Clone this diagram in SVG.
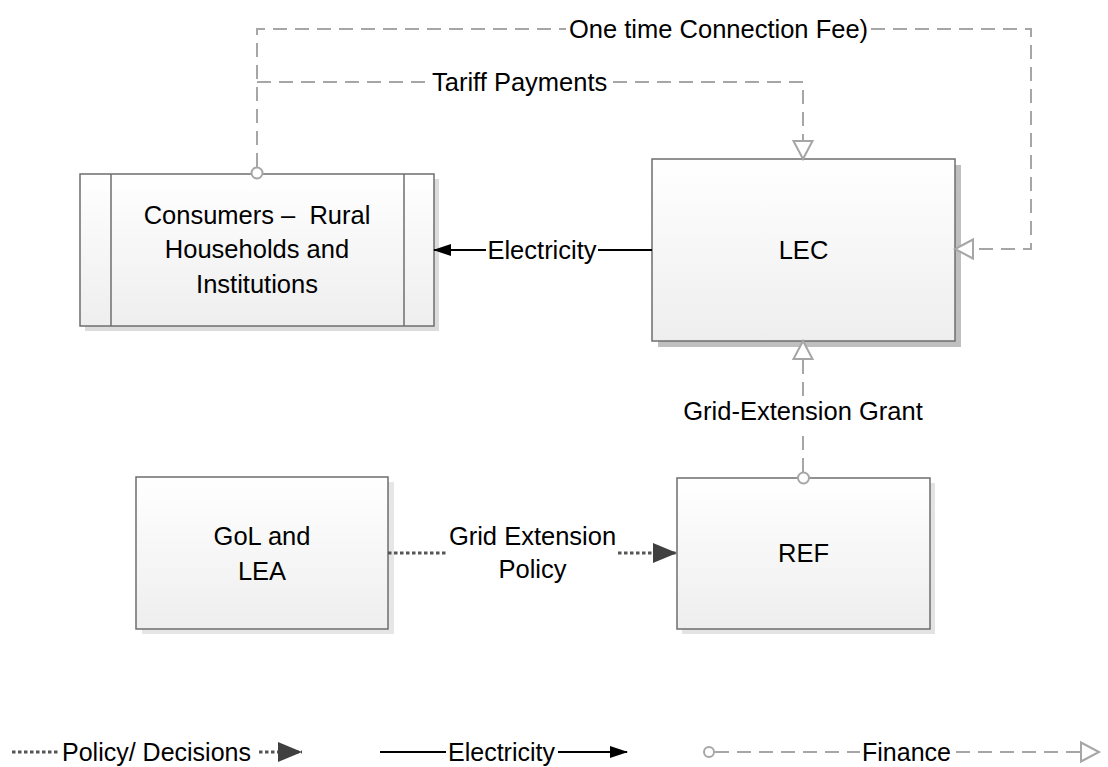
<svg xmlns="http://www.w3.org/2000/svg" width="1108" height="767" viewBox="0 0 1108 767">
<style>
  text { font-family: "Liberation Sans", Arial, sans-serif; fill: #000; }
  .lbl { font-size: 25.5px; }
  .leg { font-size: 25px; }
  .box { fill: url(#grad); stroke: #6e6e6e; stroke-width: 1.5; }
  .fin { fill: none; stroke: #a6a6a6; stroke-width: 2; stroke-dasharray: 14 8; }
  .pol { fill: none; stroke: #555; stroke-width: 3; stroke-dasharray: 3.5 2.5; }
  .ele { fill: none; stroke: #000; stroke-width: 2; }
  .ring { fill: #fff; stroke: #a6a6a6; stroke-width: 2; }
</style>
<defs>
  <linearGradient id="grad" x1="0" y1="0" x2="0" y2="1">
    <stop offset="0" stop-color="#ffffff"/>
    <stop offset="1" stop-color="#eeeeee"/>
  </linearGradient>
  <marker id="hollow" markerUnits="userSpaceOnUse" markerWidth="24" markerHeight="24" viewBox="0 0 24 24" refX="20" refY="12" orient="auto">
    <path d="M2,2.5 L20,12 L2,21.5 Z" fill="#fff" stroke="#a6a6a6" stroke-width="2" stroke-dasharray="none"/>
  </marker>
  <marker id="solid" markerUnits="userSpaceOnUse" markerWidth="18" markerHeight="14" viewBox="0 0 18 14" refX="17" refY="7" orient="auto">
    <path d="M0,1 L18,7 L0,13 Z" fill="#000"/>
  </marker>
  <marker id="dark" markerUnits="userSpaceOnUse" markerWidth="24" markerHeight="22" viewBox="0 0 24 22" refX="24" refY="11" orient="auto">
    <path d="M0,1 L24,11 L0,21 Z" fill="#404040" stroke-dasharray="none"/>
  </marker>
</defs>

<g id="consumers">
  <rect x="85" y="179" width="354" height="152" fill="#dcdcdc"/>
  <rect class="box" x="80" y="174" width="354" height="152"/>
  <line x1="111" y1="174" x2="111" y2="326" stroke="#6e6e6e" stroke-width="1.5"/>
  <line x1="404" y1="174" x2="404" y2="326" stroke="#6e6e6e" stroke-width="1.5"/>
  <text class="lbl" x="257" y="224" text-anchor="middle" xml:space="preserve">Consumers –  Rural</text>
  <text class="lbl" x="257" y="258" text-anchor="middle">Households and</text>
  <text class="lbl" x="257" y="293" text-anchor="middle">Institutions</text>
</g>

<g id="lec">
  <rect x="658" y="165" width="303" height="182" fill="#bfbfbf"/>
  <rect class="box" x="652" y="159" width="303" height="182"/>
  <text class="lbl" x="803.5" y="259" text-anchor="middle">LEC</text>
</g>

<g id="gol">
  <rect x="142" y="482" width="252" height="152" fill="#e6e6e6"/>
  <rect class="box" x="136" y="477" width="252" height="152"/>
  <text class="lbl" x="262" y="545" text-anchor="middle">GoL and</text>
  <text class="lbl" x="262" y="580" text-anchor="middle">LEA</text>
</g>

<g id="ref">
  <rect x="682" y="483" width="253" height="151" fill="#e3e3e3"/>
  <rect class="box" x="677" y="478" width="253" height="151"/>
  <text class="lbl" x="803.5" y="562" text-anchor="middle">REF</text>
</g>

<g id="connectors">
  <!-- One time connection fee -->
  <path class="fin" d="M257,167 V29 H566"/>
  <path class="fin" d="M871,29 H1031 V249 H955" marker-end="url(#hollow)"/>
  <text class="lbl" x="569" y="38">One time Connection Fee)</text>
  <!-- Tariff payments -->
  <path class="fin" d="M257,82 H429"/>
  <path class="fin" d="M613,82 H803 V159" marker-end="url(#hollow)"/>
  <text class="lbl" x="432" y="91">Tariff Payments</text>
  <circle class="ring" cx="257" cy="173" r="5.5"/>
  <!-- Electricity -->
  <path class="ele" d="M652,250 H598"/>
  <path class="ele" d="M486,250 H434" marker-end="url(#solid)"/>
  <text class="lbl" x="542" y="259" text-anchor="middle">Electricity</text>
  <!-- Grid-extension grant -->
  <path class="fin" d="M803,472 V428"/>
  <path class="fin" d="M803,396 V341" marker-end="url(#hollow)"/>
  <text class="lbl" x="803" y="420" text-anchor="middle">Grid-Extension Grant</text>
  <circle class="ring" cx="803.5" cy="478" r="5.5"/>
  <!-- Grid extension policy -->
  <path class="pol" d="M388,553 H447"/>
  <path class="pol" d="M618,553 H677" marker-end="url(#dark)"/>
  <text class="lbl" x="532.5" y="545" text-anchor="middle">Grid Extension</text>
  <text class="lbl" x="532.5" y="578" text-anchor="middle">Policy</text>
</g>

<g id="legend">
  <path class="pol" d="M12,752 H60"/>
  <text class="leg" x="62" y="761">Policy/ Decisions</text>
  <path class="pol" d="M259,752 H302" marker-end="url(#dark)"/>
  <path class="ele" d="M380,752 H446"/>
  <text class="leg" x="448" y="761">Electricity</text>
  <path class="ele" d="M558,752 H627" marker-end="url(#solid)"/>
  <circle class="ring" cx="709" cy="752" r="5"/>
  <path class="fin" d="M715,752 H860"/>
  <text class="leg" x="862" y="761">Finance</text>
  <path class="fin" d="M956,752 H1099" marker-end="url(#hollow)"/>
</g>
</svg>
